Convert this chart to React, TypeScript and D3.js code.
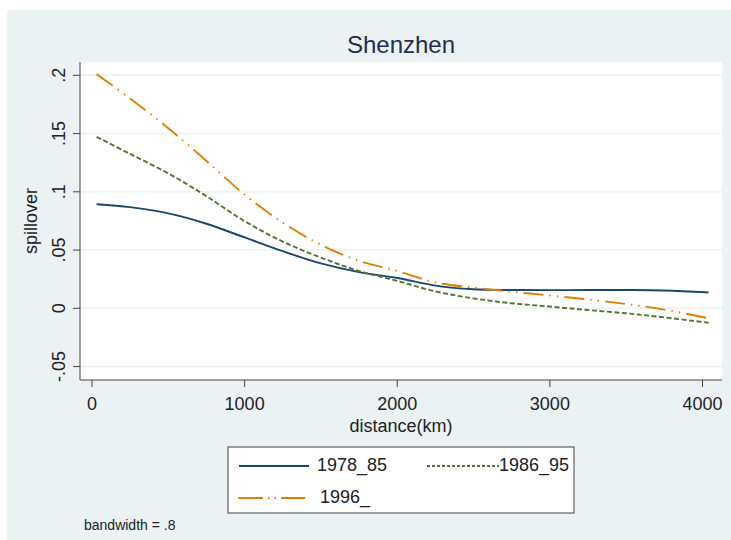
import * as d3 from "d3";

const distance = [30, 250, 500, 750, 1000, 1250, 1500, 1750, 2000, 2250, 2500, 2750, 3000, 3250, 3500, 3750, 4040];
const s1978_85 = [0.0893, 0.0868, 0.0815, 0.0726, 0.0608, 0.049, 0.0385, 0.031, 0.026, 0.0195, 0.0163, 0.0157, 0.0156, 0.0157, 0.0157, 0.0153, 0.0136];
const s1986_95 = [0.1472, 0.1325, 0.1158, 0.0962, 0.0748, 0.0573, 0.0435, 0.032, 0.0235, 0.0145, 0.0085, 0.0043, 0.0015, -0.0015, -0.0043, -0.0078, -0.0124];
const s1996_ = [0.201, 0.18, 0.1545, 0.1265, 0.0975, 0.0735, 0.0545, 0.0407, 0.032, 0.0222, 0.0178, 0.0142, 0.011, 0.0076, 0.0037, -0.0011, -0.0086];

const xTicks = [0, 1000, 2000, 3000, 4000];
const yTicks = [-0.05, 0, 0.05, 0.1, 0.15, 0.2];
const yTickLabels = ["-.05", "0", ".05", ".1", ".15", ".2"];

const series = [
  { name: "1978_85", values: s1978_85, color: "#1a476f", dash: "", legendDash: "" },
  { name: "1986_95", values: s1986_95, color: "#55752f", dash: "5,2.5", legendDash: "3,2" },
  { name: "1996_", values: s1996_, color: "#e37e00", dash: "20,6,1.5,6,1.5,6", legendDash: "25,5,1.5,5,1.5,5" },
];

const W = 731;
const H = 540;
const plot = { left: 80, right: 722, top: 62, bottom: 380 };
const font = "'Liberation Sans', Arial, sans-serif";

export default function App() {
  const x = d3.scaleLinear([0, 4000], [92, 702.5]);
  const y = d3.scaleLinear([0, 0.2], [308.3, 75.3]);
  const line = d3
    .line<number>()
    .x((_, i) => x(distance[i]))
    .y((d) => y(d))
    .curve(d3.curveCatmullRom.alpha(0.5));

  const midX = (plot.left + plot.right) / 2;
  const midY = (plot.top + plot.bottom) / 2;

  return (
    <svg width={W} height={H} style={{ position: "absolute", left: 0, top: 0 }} fontFamily={font}>
      <rect x={0} y={0} width={W} height={H} fill="#ffffff" />
      <rect x={7} y={10} width={W - 7} height={H - 10} fill="#eaf2f3" />
      <text x={midX} y={47} textAnchor="middle" dominantBaseline="middle" fontSize={24} fill="#1e2d53">
        Shenzhen
      </text>

      <rect x={plot.left} y={plot.top} width={plot.right - plot.left} height={plot.bottom - plot.top} fill="#ffffff" />
      {yTicks.map((t) => (
        <line key={"g" + t} x1={plot.left} x2={plot.right} y1={y(t)} y2={y(t)} stroke="#eaf2f3" strokeWidth={1.5} />
      ))}

      {series.map((s) => (
        <path
          key={s.name}
          d={line(s.values) ?? ""}
          fill="none"
          stroke={s.color}
          strokeWidth={1.9}
          strokeDasharray={s.dash || undefined}
        />
      ))}

      {/* axes */}
      <line x1={plot.left} x2={plot.left} y1={plot.top} y2={plot.bottom} stroke="#444" strokeWidth={1} />
      <line x1={plot.left} x2={plot.right} y1={plot.bottom} y2={plot.bottom} stroke="#444" strokeWidth={1} />
      {yTicks.map((t, i) => (
        <g key={"y" + t}>
          <line x1={plot.left - 7} x2={plot.left} y1={y(t)} y2={y(t)} stroke="#444" />
          <text
            transform={`translate(${60},${y(t)}) rotate(-90)`}
            textAnchor="middle"
            dominantBaseline="middle"
            fontSize={18}
            fill="#222"
          >
            {yTickLabels[i]}
          </text>
        </g>
      ))}
      {xTicks.map((t) => (
        <g key={"x" + t}>
          <line x1={x(t)} x2={x(t)} y1={plot.bottom} y2={plot.bottom + 7} stroke="#444" />
          <text x={x(t)} y={405} textAnchor="middle" dominantBaseline="middle" fontSize={18} fill="#222">
            {t}
          </text>
        </g>
      ))}
      <text x={midX} y={427} textAnchor="middle" dominantBaseline="middle" fontSize={18} fill="#222">
        distance(km)
      </text>
      <text
        transform={`translate(${32},${midY}) rotate(-90)`}
        textAnchor="middle"
        dominantBaseline="middle"
        fontSize={18}
        fill="#222"
      >
        spillover
      </text>

      {/* legend */}
      <rect x={228} y={447} width={346} height={66} fill="#ffffff" stroke="#444" strokeWidth={1} />
      <line x1={239} x2={309} y1={466} y2={466} stroke={series[0].color} strokeWidth={1.9} />
      <text x={317} y={466} dominantBaseline="middle" fontSize={18} fill="#222">{series[0].name}</text>
      <line x1={427} x2={499} y1={466} y2={466} stroke={series[1].color} strokeWidth={1.9} strokeDasharray={series[1].legendDash} />
      <text x={499} y={466} dominantBaseline="middle" fontSize={18} fill="#222">{series[1].name}</text>
      <line x1={238} x2={305} y1={498} y2={498} stroke={series[2].color} strokeWidth={1.9} strokeDasharray={series[2].legendDash} />
      <text x={320} y={498} dominantBaseline="middle" fontSize={18} fill="#222">{series[2].name}</text>

      <text x={84} y={526} dominantBaseline="middle" fontSize={14} fill="#222">bandwidth = .8</text>
    </svg>
  );
}
